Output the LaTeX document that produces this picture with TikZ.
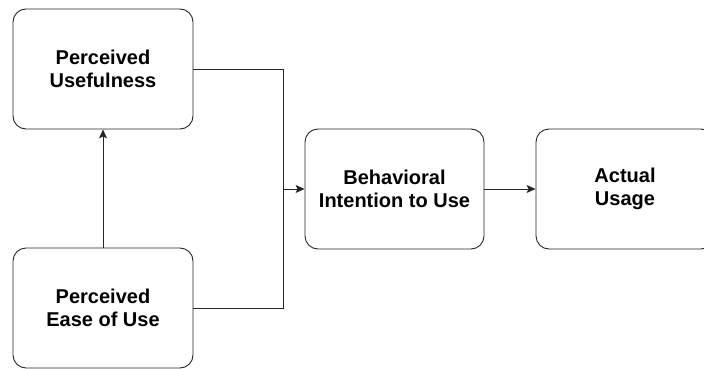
\documentclass[tikz,border=0pt]{standalone}
\usepackage{fontspec}
\setmainfont{Liberation Sans}
\usetikzlibrary{arrows.meta}
\begin{document}
\begin{tikzpicture}[x=1pt,y=-1pt,
  box/.style={draw=black!85, line width=0.9pt, rounded corners=13pt, minimum width=180pt, minimum height=120pt, align=center, font=\fontsize{20}{22.5}\selectfont\bfseries, inner sep=0pt},
  conn/.style={draw=black!85, line width=0.9pt},
  arr/.style={conn, -{Stealth[length=9pt,width=8pt,inset=2pt]}}]
\useasboundingbox (0,0) rectangle (704,369);
\clip (0,0) rectangle (704,369);
\node[box] (pu) at (103,69) {Perceived\\Usefulness};
\node[box] (peou) at (103,308) {Perceived\\Ease of Use};
\node[box, minimum width=179pt] (bi) at (394.5,189) {Behavioral\\Intention to Use};
\node[box, minimum width=178pt] (au) at (625,189) {Actual\\Usage};
\coordinate (j) at (283,189);
\draw[arr] (peou.north) -- (pu.south);
\draw[conn] (pu.east) -| (j);
\draw[conn] (peou.east) -| (j);
\draw[arr] (j) -- (bi.west);
\draw[arr] (bi.east) -- (au.west);
\end{tikzpicture}
\end{document}
